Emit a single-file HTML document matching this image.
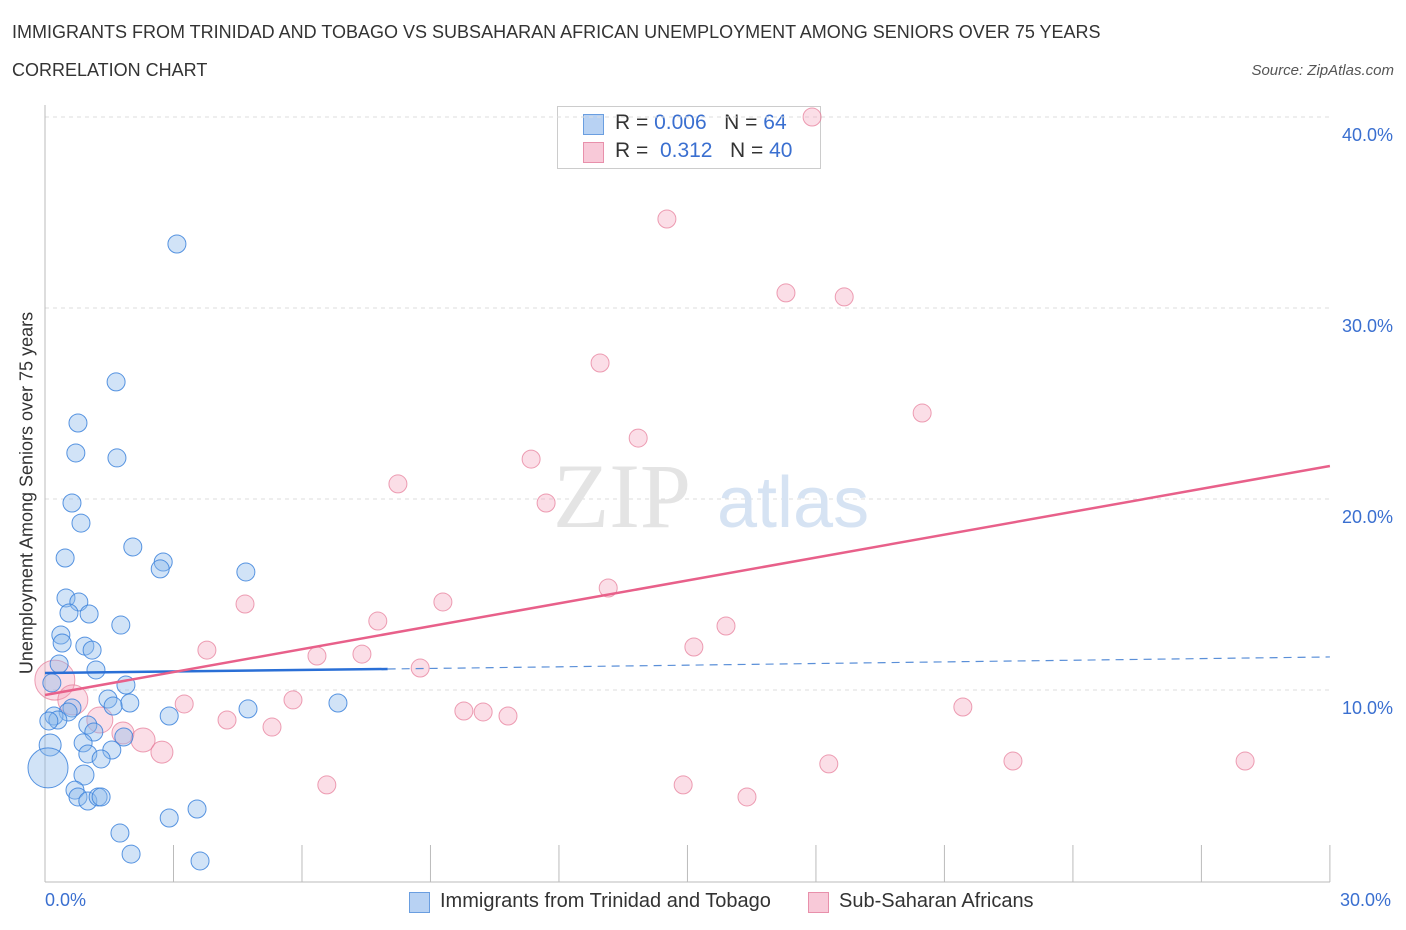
<!DOCTYPE html>
<html><head><meta charset="utf-8"><style>
body{margin:0;background:#fff;font-family:"Liberation Sans",sans-serif}
#wrap{position:relative;width:1406px;height:930px;overflow:hidden}
.t{position:absolute;white-space:nowrap}
</style></head><body>
<div id="wrap">
<div class="t" style="left:12px;top:22px;font-size:18px;color:#333">IMMIGRANTS FROM TRINIDAD AND TOBAGO VS SUBSAHARAN AFRICAN UNEMPLOYMENT AMONG SENIORS OVER 75 YEARS</div>
<div class="t" style="left:12px;top:60px;font-size:18px;color:#333">CORRELATION CHART</div>
<div class="t" style="right:12px;top:62px;font-size:15px;color:#555;font-style:italic">Source: ZipAtlas.com</div>
<div class="t" style="left:557px;top:106px;width:262px;height:61px;border:1px solid #ccc;background:rgba(255,255,255,0.9)"></div>
<div class="t" style="left:583px;top:114px;width:19px;height:19px;background:#b8d2f3;border:1px solid #6a9ee0"></div>
<div class="t" style="left:615px;top:111px;font-size:21px;color:#333">R = <span style="color:#3a6fd0">0.006</span>&nbsp;&nbsp;&nbsp;N = <span style="color:#3a6fd0">64</span></div>
<div class="t" style="left:583px;top:142px;width:19px;height:19px;background:#f8c9d8;border:1px solid #e890ab"></div>
<div class="t" style="left:615px;top:139px;font-size:21px;color:#333">R =&nbsp;&nbsp;<span style="color:#3a6fd0">0.312</span>&nbsp;&nbsp;&nbsp;N = <span style="color:#3a6fd0">40</span></div>
<svg id="svg" width="1406" height="930" style="position:absolute;left:0;top:0"></svg>
<div class="t" style="left:27px;top:493px;font-size:18px;color:#333;transform:translate(-50%,-50%) rotate(-90deg)">Unemployment Among Seniors over 75 years</div>
<div class="t" style="left:45px;top:890px;font-size:18px;color:#3a6fd0">0.0%</div>
<div class="t" style="left:1340px;top:890px;font-size:18px;color:#3a6fd0">30.0%</div>
<div class="t" style="left:409px;top:892px;width:19px;height:19px;background:#b8d2f3;border:1px solid #6a9ee0"></div>
<div class="t" style="left:440px;top:890px;font-size:20px;color:#333">Immigrants from Trinidad and Tobago</div>
<div class="t" style="left:808px;top:892px;width:19px;height:19px;background:#f8c9d8;border:1px solid #e890ab"></div>
<div class="t" style="left:839px;top:890px;font-size:20px;color:#333">Sub-Saharan Africans</div>
</div>
<script>
const blueX=[3.08,1.66,0.77,0.72,1.68,0.63,0.84,0.47,2.05,2.76,2.69,4.69,0.49,0.79,0.56,1.03,1.77,0.37,0.40,0.93,1.10,0.33,1.19,0.16,1.89,1.47,1.98,1.59,2.90,4.74,6.84,0.63,0.54,0.21,0.30,0.09,1.00,1.14,1.84,0.89,0.12,1.56,1.00,1.31,0.91,0.70,0.77,1.00,1.24,1.31,1.75,3.55,2.90,2.01,3.62,0.07];
const blueY=[33.35,26.13,23.98,22.41,22.15,19.79,18.74,16.91,17.49,16.70,16.34,16.18,14.82,14.61,14.03,13.98,13.40,12.88,12.46,12.30,12.09,11.36,11.05,10.37,10.26,9.53,9.32,9.16,8.64,9.01,9.32,9.06,8.85,8.64,8.43,8.38,8.17,7.80,7.54,7.23,7.12,6.86,6.65,6.39,5.55,4.76,4.40,4.19,4.40,4.40,2.51,3.77,3.30,1.41,1.05,5.92];
const blueR=[9,9,9,9,9,9,9,9,9,9,9,9,9,9,9,9,9,9,9,9,9,9,9,9,9,9,9,9,9,9,9,9,9,9,9,9,9,9,9,9,11,9,9,9,10,9,9,9,9,9,9,9,9,9,9,20];
const pinkX=[17.91,14.52,17.30,18.66,12.96,20.48,13.85,11.35,8.24,11.70,13.15,4.67,9.29,7.77,15.90,3.78,15.15,6.35,7.40,8.76,0.23,0.65,3.25,5.79,1.28,1.82,2.29,2.73,4.25,5.30,9.78,10.23,10.81,21.43,18.30,22.60,28.02,14.90,6.58,16.39];
const pinkY=[40.0,34.66,30.79,30.58,27.12,24.50,23.19,22.09,20.79,19.79,15.34,14.50,14.61,13.61,13.35,12.09,12.25,11.78,11.88,11.15,10.52,9.48,9.27,9.48,8.43,7.75,7.38,6.75,8.43,8.06,8.90,8.85,8.64,9.11,6.13,6.28,6.28,5.03,5.03,4.40];
const pinkR=[9,9,9,9,9,9,9,9,9,9,9,9,9,9,9,9,9,9,9,9,20,15,9,9,13,11,12,11,9,9,9,9,9,9,9,9,9,9,9,9];
const yTicks=[10,20,30,40];
const yTickLabels=["10.0%","20.0%","30.0%","40.0%"];
const xTicks=[0,3,6,9,12,15,18,21,24,27,30];
const blueTrendX=[0,8,30];
const blueTrendY=[10.89,11.10,11.73];
const pinkTrendX=[0,30];
const pinkTrendY=[9.74,21.73];

const NS="http://www.w3.org/2000/svg";
const svg=document.getElementById('svg');
const sx=v=>45+v*42.83, sy=v=>881-v*19.1;
function mk(t,a){const e=document.createElementNS(NS,t);for(const k in a)e.setAttribute(k,a[k]);svg.appendChild(e);return e;}

yTicks.forEach((v,i)=>{
  const g=mk('line',{x1:45,x2:1330,y1:sy(v),y2:sy(v),stroke:'#dcdcdc','stroke-dasharray':'4,4'});
  
  
  const t=mk('text',{x:1393,y:sy(v)+24,'text-anchor':'end','font-size':18,fill:'#3a6fd0','font-family':'Liberation Sans'});
  t.textContent=yTickLabels[i];
  
  
});
const ax=mk('line',{x1:45,x2:45,y1:105,y2:882,stroke:'#bbb'});


const bx=mk('line',{x1:45,x2:1330,y1:882,y2:882,stroke:'#bbb'});


xTicks.forEach(v=>{
  const l=mk('line',{x1:sx(v),x2:sx(v),y1:845,y2:882,stroke:'#bbb'});
  
  
});

const wm1=mk('text',{x:553,y:527,'font-size':92,fill:'#e4e4e4','font-family':'Liberation Serif'});
wm1.textContent='ZIP';


const wm2=mk('text',{x:717,y:527,'font-size':72,fill:'#d6e3f3','font-family':'Liberation Sans'});
wm2.textContent='atlas';



pinkX.forEach((x,i)=>{
  const c=mk('circle',{cx:sx(x),cy:sy(pinkY[i]),r:pinkR[i],fill:'rgba(244,160,185,0.35)',stroke:'rgba(230,120,150,0.7)','stroke-width':1});
  
  
});
blueX.forEach((x,i)=>{
  const c=mk('circle',{cx:sx(x),cy:sy(blueY[i]),r:blueR[i],fill:'rgba(140,185,235,0.4)',stroke:'rgba(60,130,220,0.85)','stroke-width':1});
  
  
});

const bt=mk('line',{x1:sx(blueTrendX[0]),y1:sy(blueTrendY[0]),x2:sx(blueTrendX[1]),y2:sy(blueTrendY[1]),stroke:'#2a6fd6','stroke-width':2.5});


const bd=mk('line',{x1:sx(blueTrendX[1]),y1:sy(blueTrendY[1]),x2:sx(blueTrendX[2]),y2:sy(blueTrendY[2]),stroke:'#5a8fd8','stroke-width':1.2,'stroke-dasharray':'8,6'});


const pt=mk('line',{x1:sx(pinkTrendX[0]),y1:sy(pinkTrendY[0]),x2:sx(pinkTrendX[1]),y2:sy(pinkTrendY[1]),stroke:'#e8608a','stroke-width':2.5});


</script>
</body></html>
